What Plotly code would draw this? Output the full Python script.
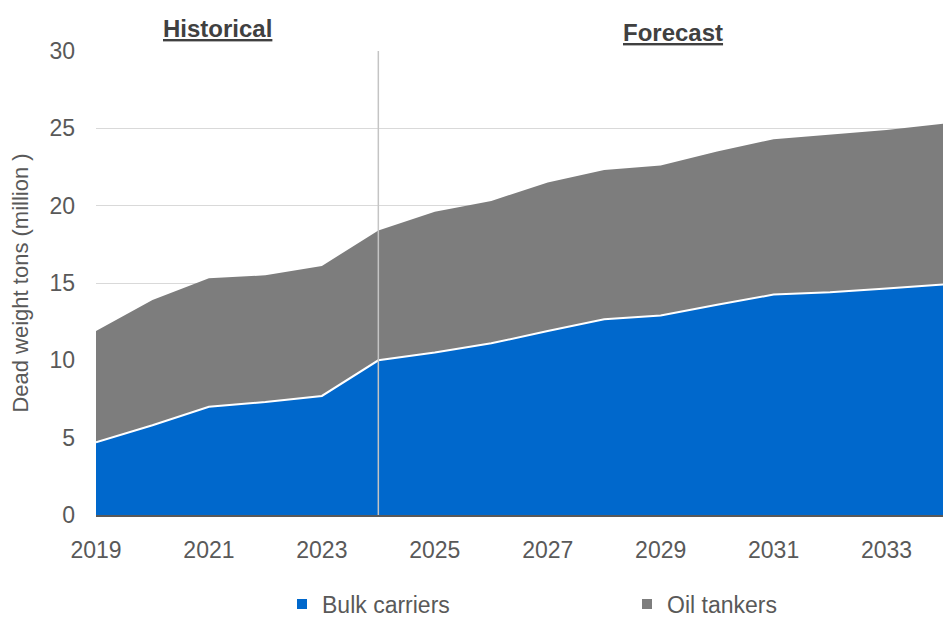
import plotly.graph_objects as go

# Fleet deliveries, dead weight tons (million), stacked by ship type
years = list(range(2019, 2035))
bulk_carriers = [4.7, 5.8, 7.0, 7.3, 7.7, 10.0, 10.5, 11.1, 11.9, 12.65, 12.9, 13.6, 14.25, 14.4, 14.65, 14.9]
oil_tankers = [7.2, 8.1, 8.3, 8.2, 8.4, 8.4, 9.1, 9.2, 9.6, 9.65, 9.7, 9.9, 10.05, 10.2, 10.25, 10.4]

x_ticks = list(range(2019, 2035, 2))
y_ticks = [0, 5, 10, 15, 20, 25, 30]
split_year = 2024

BLUE = "#0068CC"
GREY = "#7D7D7D"
TEXT = "#595959"
FONT = "Arial, Liberation Sans, sans-serif"

fig = go.Figure()

fig.add_trace(go.Scatter(
    x=years, y=bulk_carriers, name="Bulk carriers", stackgroup="fleet",
    mode="lines", line=dict(color="white", width=2), fillcolor=BLUE,
    showlegend=False, hoverinfo="x+y+name",
))
fig.add_trace(go.Scatter(
    x=years, y=oil_tankers, name="Oil tankers", stackgroup="fleet",
    mode="lines", line=dict(color=GREY, width=0), fillcolor=GREY,
    showlegend=False, hoverinfo="x+y+name",
))

# square swatches for the legend
for name, color, w in [("Bulk carriers", BLUE, 300), ("Oil tankers", GREY, 160)]:
    fig.add_trace(go.Scatter(
        x=[None], y=[None], mode="markers", name=name, legendwidth=w,
        marker=dict(symbol="square", size=10, color=color),
    ))

# divider between historical and forecast periods
fig.add_shape(type="line", xref="x", yref="y", x0=split_year, x1=split_year,
              y0=0, y1=30, line=dict(color="#C4C4C4", width=1.5), layer="above")

fig.add_annotation(text="<b><u>Historical</u></b>", xref="paper", yref="paper",
                   x=(217 - 96) / 847, y=(515 - 28) / 464, showarrow=False,
                   xanchor="center", yanchor="middle",
                   font=dict(size=24, color="#404040", family=FONT))
fig.add_annotation(text="<b><u>Forecast</u></b>", xref="paper", yref="paper",
                   x=(673 - 96) / 847, y=(515 - 32) / 464, showarrow=False,
                   xanchor="center", yanchor="middle",
                   font=dict(size=24, color="#404040", family=FONT))

fig.update_layout(
    width=944, height=617,
    margin=dict(l=96, r=1, t=51, b=102, autoexpand=False),
    paper_bgcolor="white", plot_bgcolor="white",
    font=dict(family=FONT, size=23, color=TEXT),
    legend=dict(orientation="h", x=(282 - 96) / 847, xanchor="left",
                y=(515 - 604) / 464, yanchor="middle", traceorder="normal",
                font=dict(size=23, color=TEXT, family=FONT),
                bgcolor="rgba(0,0,0,0)"),
    xaxis=dict(range=[2019, 2034], tickvals=x_ticks, ticktext=[str(t) for t in x_ticks],
               showgrid=False, zeroline=False, showline=True, linecolor="#595959",
               linewidth=1.5, ticks="", ticklabelstandoff=14,
               tickfont=dict(size=23, color=TEXT)),
    yaxis=dict(range=[0, 30], tickvals=y_ticks, showgrid=True, gridcolor="#D9D9D9",
               gridwidth=1, zeroline=False, showline=False, ticks="",
               ticklabelstandoff=20, tickfont=dict(size=23, color=TEXT),
               title=dict(text="Dead weight tons (million )", standoff=14,
                          font=dict(size=22, color=TEXT))),
)

fig.write_html("out.html")
